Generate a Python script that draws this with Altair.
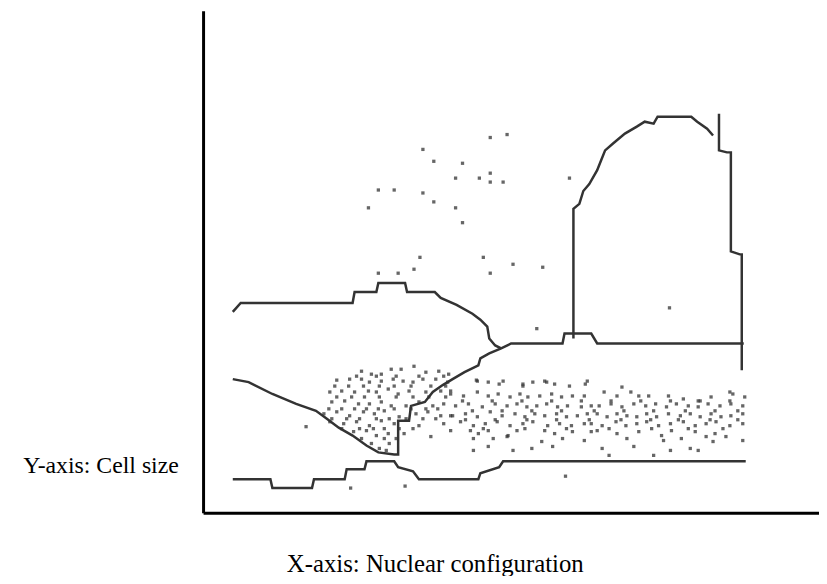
import altair as alt
import pandas as pd

# Gate outlines (x = nuclear configuration, y = cell size)
gate_a_x = [30, 38, 151, 153, 175, 177, 204, 206, 234, 240, 256, 272, 280, 287, 289, 295, 301]
gate_a_y = [203, 212, 212, 223, 223, 232, 232, 223, 223, 217, 210, 201, 195, 188, 176, 169, 166]

gate_b_x = [30, 46, 70, 94, 114, 125, 137, 151, 165, 177, 193, 197, 197, 208, 210, 224, 232, 242,
            252, 264, 278, 280, 289, 301, 311, 363, 365, 392, 398, 546]
gate_b_y = [135, 132, 120, 110, 103, 95, 86, 78, 68, 61, 59, 59, 93, 93, 108, 112, 122, 129,
            135, 142, 149, 156, 161, 166, 171, 171, 181, 181, 171, 171]

gate_c1_x = [374, 374, 380, 384, 390, 398, 402, 406, 414, 426, 438, 446, 455, 459, 493, 499, 509, 515]
gate_c1_y = [176, 307, 312, 325, 332, 346, 356, 366, 373, 383, 390, 395, 393, 400, 400, 395, 388, 381]

gate_c2_x = [521, 521, 529, 533, 533, 542, 544, 544]
gate_c2_y = [403, 366, 364, 364, 264, 261, 261, 144]

gate_d_x = [30, 68, 70, 110, 112, 143, 145, 163, 165, 193, 197, 212, 218, 278, 280, 299, 303, 548]
gate_d_y = [34, 34, 25, 25, 34, 34, 44, 44, 52, 52, 46, 42, 34, 34, 40, 46, 52, 52]

# Events (dots)
dot_x = [
    290, 307, 222, 233, 262, 290, 255, 279, 290, 303, 177, 193, 222, 233, 167, 255, 262, 219, 283,
    313, 343, 213, 177, 197, 290, 370, 337, 471, 366, 149, 204, 104,
    160, 170, 180, 190, 200, 213, 225, 238, 248,
    135, 148, 160, 168, 180, 192, 202, 212, 222, 235, 247,
    128, 140, 153, 167, 175, 187, 197, 208, 225, 240, 250,
    130, 143, 157, 168, 180, 190, 205, 218, 232, 243,
    122, 135, 148, 162, 173, 183, 198, 215, 227, 240, 250,
    128, 142, 155, 168, 180, 193, 218, 243,
    152, 165, 175, 187, 203, 230,
    170, 178, 188, 185,
    277, 288, 303, 323, 333, 345, 355, 370, 388,
    250, 263, 277, 288, 298, 310, 320, 328, 340, 352, 362, 373, 385,
    255, 268, 282, 295, 307, 317, 327, 337, 347, 358, 368, 382, 392,
    252, 265, 277, 290, 302, 315, 325, 335, 345, 357, 367, 378, 388,
    260, 273, 285, 297, 310, 323, 333, 348, 360, 372, 385,
    250, 270, 278, 288, 308, 317, 345, 355, 373, 392,
    273, 293, 307, 342, 363, 385,
    273, 288, 313, 332, 353,
    423, 405, 418, 432, 440, 450, 470, 485, 500, 513, 532, 547,
    400, 412, 423, 435, 447, 457, 468, 478, 490, 500, 510, 522, 533, 545,
    398, 408, 418, 428, 438, 448, 458, 470, 482, 492, 502, 513, 523, 533, 545,
    392, 403, 417, 427, 438, 448, 460, 472, 485, 497, 508, 518, 532, 545,
    398, 418, 428, 440, 463, 473, 483, 497, 508, 517, 528, 545,
    403, 410, 435, 455, 465, 472, 492, 500, 515,
    276, 299, 323, 347, 386, 535,
    155, 175, 195, 218, 243,
    133, 147, 162, 178, 193, 210, 230, 245,
    135, 150, 163, 178, 195, 212, 228, 245,
    127, 140, 153, 165, 177, 193, 210, 225, 237,
    130, 145, 158, 175, 188, 205, 222, 235,
    140, 158, 172, 183, 198, 212,
    160, 183, 195,
    262, 292, 322, 352, 382, 412, 442, 472, 502, 532,
    272, 302, 332, 362, 395, 425, 455, 487, 517, 540,
    265, 295, 327, 357, 390, 422, 452, 480, 512, 540,
    283, 325, 367, 410, 453, 490, 525,
]
dot_y = [
    379, 382, 367, 355, 353, 343, 338, 338, 334, 334, 326, 326, 323, 314, 308, 308, 293, 258, 258,
    251, 248, 246, 242, 242, 242, 338, 186, 207, 37, 25, 27, 87,
    143, 140, 140, 145, 145, 148, 142, 143, 140,
    134, 135, 135, 132, 133, 135, 133, 132, 135, 135, 132,
    122, 123, 122, 123, 122, 125, 120, 123, 122, 123, 123,
    112, 113, 110, 110, 112, 108, 108, 112, 108, 110,
    100, 102, 98, 102, 100, 103, 97, 100, 102, 98, 98,
    92, 90, 92, 88, 93, 90, 88, 90,
    82, 83, 78, 80, 80, 77,
    70, 65, 70, 63,
    133, 132, 133, 130, 132, 133, 130, 128, 133,
    120, 118, 122, 118, 120, 117, 120, 117, 118, 120, 117, 118, 118,
    108, 110, 107, 110, 108, 110, 107, 108, 110, 107, 108, 107, 108,
    98, 100, 97, 102, 98, 100, 97, 100, 98, 100, 97, 98, 100,
    92, 88, 90, 92, 88, 90, 92, 88, 90, 88, 90,
    83, 83, 80, 83, 78, 83, 83, 80, 82, 82,
    75, 75, 77, 72, 75, 73,
    63, 67, 63, 65, 67,
    127, 122, 118, 122, 118, 118, 118, 115, 113, 117, 122, 117,
    108, 110, 107, 110, 108, 110, 107, 110, 108, 107, 110, 108, 110, 108,
    100, 97, 100, 98, 97, 100, 97, 100, 98, 100, 97, 100, 97, 98, 100,
    90, 88, 92, 88, 90, 92, 88, 90, 92, 88, 90, 92, 88, 90,
    83, 80, 75, 82, 78, 83, 75, 82, 77, 80, 77, 73,
    65, 58, 67, 58, 73, 63, 65, 63, 72,
    134, 130, 128, 132, 130, 120,
    138, 138, 138, 138, 138,
    128, 128, 128, 128, 128, 128, 128, 128,
    117, 117, 117, 117, 117, 117, 117, 117,
    105, 105, 105, 105, 105, 105, 105, 105, 105,
    95, 95, 95, 95, 95, 95, 95, 95,
    85, 85, 85, 85, 85, 85,
    75, 75, 75,
    113, 113, 113, 113, 113, 113, 113, 113, 113, 113,
    103, 103, 103, 103, 103, 103, 103, 103, 103, 103,
    94, 94, 94, 94, 94, 94, 94, 94, 94, 94,
    85, 85, 85, 85, 85, 85, 85,
]

gates = []
for name, xs, ys in [("A", gate_a_x, gate_a_y), ("B", gate_b_x, gate_b_y),
                     ("C1", gate_c1_x, gate_c1_y), ("C2", gate_c2_x, gate_c2_y),
                     ("D", gate_d_x, gate_d_y)]:
    for i, (xv, yv) in enumerate(zip(xs, ys)):
        gates.append({"gate": name, "ord": i, "x": xv, "y": yv})
gate_df = pd.DataFrame(gates)
dot_df = pd.DataFrame({"x": dot_x, "y": dot_y})

xscale = alt.Scale(domain=[0, 622], nice=False, zero=False)
yscale = alt.Scale(domain=[0, 507], nice=False, zero=False)

xaxis = alt.Axis(title="X-axis: Nuclear configuration", labels=False, ticks=False, grid=False,
                 domainColor="black", domainWidth=3,
                 titleFont="Liberation Serif", titleFontSize=25, titleFontWeight="normal",
                 titleColor="black", titleX=234, titleY=51, titleAlign="center",
                 titleBaseline="middle", titleAnchor="start")
yaxis = alt.Axis(title="Y-axis: Cell size", labels=False, ticks=False, grid=False,
                 domainColor="black", domainWidth=3,
                 titleFont="Liberation Serif", titleFontSize=24, titleFontWeight="normal",
                 titleColor="black", titleAngle=0, titleX=-25, titleY=459,
                 titleAlign="right", titleBaseline="middle", titleAnchor="start")

lines = alt.Chart(gate_df).mark_line(color="#333333", strokeWidth=2.5, strokeJoin="miter").encode(
    x=alt.X("x:Q", scale=xscale, axis=xaxis),
    y=alt.Y("y:Q", scale=yscale, axis=yaxis),
    detail="gate:N",
    order="ord:Q",
)

dots = alt.Chart(dot_df).mark_square(color="#333333", size=11, opacity=0.75).encode(
    x=alt.X("x:Q", scale=xscale),
    y=alt.Y("y:Q", scale=yscale),
)

chart = alt.layer(lines, dots).properties(
    width=622, height=507,
    padding={"left": 197, "top": 0, "right": 0, "bottom": 61},
    autosize=alt.AutoSizeParams(type="none"),
    background="white",
).configure_view(stroke=None)

chart.save("out.html", embed_options={"renderer": "svg", "actions": False})
